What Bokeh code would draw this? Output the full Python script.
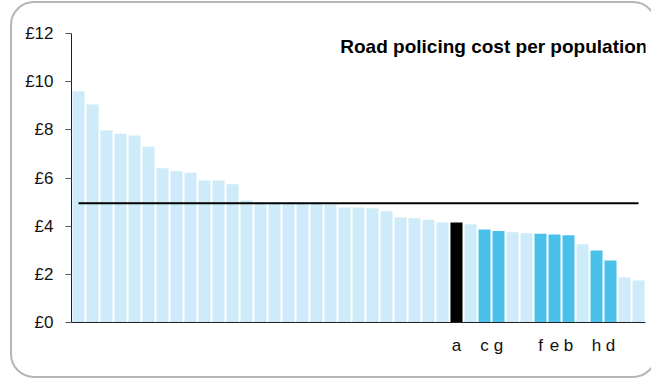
from bokeh.plotting import figure
from bokeh.models import Range1d, FixedTicker, Label, ColumnDataSource, InlineStyleSheet
from bokeh.embed import file_html
from bokeh.resources import INLINE

# ---- data ----
values = [9.60, 9.05, 7.97, 7.84, 7.76, 7.30, 6.40, 6.28, 6.22, 5.90, 5.90, 5.74,
          5.07, 4.94, 4.93, 4.93, 4.92, 4.92, 4.90, 4.77, 4.77, 4.74, 4.62, 4.36,
          4.33, 4.27, 4.15, 4.15, 4.08, 3.86, 3.80, 3.75, 3.71, 3.68, 3.65, 3.62,
          3.25, 2.99, 2.57, 1.87, 1.74]
labels = [""] * 27 + ["a", "", "c", "g", "", "", "f", "e", "b", "", "h", "d", "", ""]
groups = ["other"] * 27 + ["focus", "other", "peer", "peer", "other", "other",
                           "peer", "peer", "peer", "other", "peer", "peer", "other", "other"]
average = 4.95
y_ticks = [0, 2, 4, 6, 8, 10, 12]
y_tick_labels = ["£0", "£2", "£4", "£6", "£8", "£10", "£12"]
title_text = "Road policing cost per population"

palette = {"other": "#cdebf8", "peer": "#4bc0ea", "focus": "#000000"}

n = len(values)
xs = list(range(n))
colors = [palette[g] for g in groups]
src = ColumnDataSource(dict(x=xs, top=values, color=colors))

p = figure(width=651, height=380, output_backend="svg", toolbar_location=None,
           x_range=Range1d(-0.5, n - 0.5), y_range=Range1d(0, 12),
           min_border_left=71, min_border_right=6, min_border_top=33,
           min_border_bottom=58)
p.outline_line_color = None
p.xgrid.grid_line_color = None
p.ygrid.grid_line_color = None
p.background_fill_color = "white"
p.border_fill_color = "white"

p.vbar(x="x", top="top", width=0.86, bottom=0, fill_color="color",
       line_color=None, source=src)

# average line
p.line(x=[xs[0], xs[-1]], y=[average, average], line_color="black", line_width=2)

# y axis
yax = p.yaxis[0]
yax.ticker = FixedTicker(ticks=y_ticks)
yax.major_label_overrides = {t: l for t, l in zip(y_ticks, y_tick_labels)}
yax.major_tick_out = 6
yax.major_tick_in = 0
yax.minor_tick_out = 0
yax.minor_tick_in = 0
yax.major_label_standoff = 12
yax.axis_line_color = "#222222"
yax.major_tick_line_color = "#555555"
yax.major_label_text_font = "Liberation Sans"
yax.major_label_text_font_size = "17px"
yax.major_label_text_color = "#111111"

# x axis
lab_idx = [i for i, l in enumerate(labels) if l]
xax = p.xaxis[0]
xax.ticker = FixedTicker(ticks=lab_idx)
xax.major_label_overrides = {i: labels[i] for i in lab_idx}
xax.major_tick_out = 0
xax.major_tick_in = 0
xax.minor_tick_out = 0
xax.minor_tick_in = 0
xax.major_label_standoff = 13
xax.axis_line_color = "#222222"
xax.major_label_text_font = "Liberation Sans"
xax.major_label_text_font_size = "17px"
xax.major_label_text_color = "#111111"

p.add_layout(Label(x=n - 0.36, y=11.45, text=title_text, text_align="right",
                   text_baseline="middle", text_font="Liberation Sans",
                   text_font_style="bold", text_font_size="19px",
                   text_color="#000000"))

p.styles = {"position": "relative", "overflow": "hidden"}
p.stylesheets = [InlineStyleSheet(css=(
    ":host::after { content: ''; position: absolute; left: 10px; top: 1px;"
    " width: 647px; height: 377px; border: 2px solid #b5b5b5;"
    " border-radius: 24px; box-sizing: border-box; pointer-events: none;"
    " z-index: 100; }"))]

open("out.html", "w").write(file_html(p, INLINE))
